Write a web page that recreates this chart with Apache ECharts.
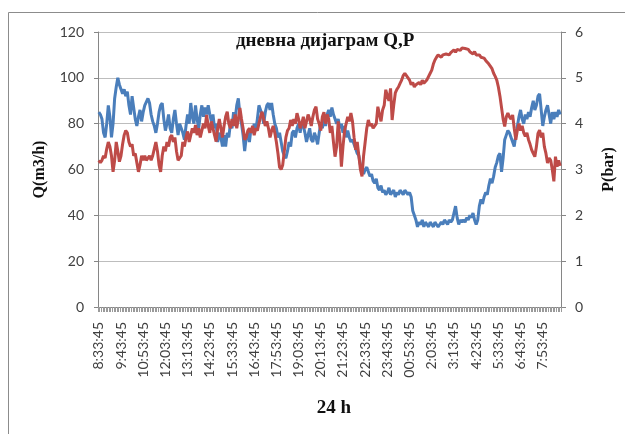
<!DOCTYPE html>
<html>
<head>
<meta charset="utf-8">
<script src="https://cdn.jsdelivr.net/npm/echarts@6/dist/echarts.min.js"></script>
<style>
  html, body { margin: 0; padding: 0; background: #ffffff; }
  #chart { width: 625px; height: 434px; }
</style>
</head>
<body>
<div id="chart"></div>
<script>
// Daily flow (Q, m3/h) and pressure (P, bar) readings, one every 5 minutes from 8:33:45
const startHour = 8, startMinute = 33, stepMinutes = 5;

const flowQ = [
  85, 84, 82, 76, 74, 80, 88, 83, 74, 80,
  91, 96, 100, 97, 95, 93, 95, 92, 94, 88,
  84, 92, 87, 82, 79, 83, 86, 81, 85, 88,
  88, 91, 89, 84, 81, 79, 76, 80, 85, 88,
  89, 82, 77, 80, 84, 78, 76, 82, 86, 80,
  75, 80, 78, 76, 73, 79, 84, 80, 89, 83,
  80, 88, 82, 78, 84, 88, 83, 87, 84, 88,
  84, 81, 84, 78, 80, 72, 76, 74, 70, 75,
  70, 76, 74, 80, 78, 85, 82, 88, 91, 84,
  80, 75, 68, 74, 76, 72, 78, 76, 80, 77,
  82, 88, 86, 84, 80, 85, 88, 89, 86, 89,
  84, 80, 78, 74, 76, 72, 68, 66, 65, 68,
  72, 70, 76, 77, 74, 78, 80, 76, 81, 79,
  76, 72, 75, 78, 73, 72, 76, 74, 71, 76,
  80, 78, 82, 79, 84, 86, 83, 87, 84, 82,
  80, 82, 78, 80, 76, 79, 74, 77, 74, 72,
  73, 71, 69, 67, 66, 62, 60, 58, 60, 61,
  59, 57, 58, 55, 54, 56, 52, 51, 53, 50,
  51, 49, 50, 52, 49, 50, 51, 48, 50, 49,
  51, 50, 49, 51, 50, 49, 50, 48, 42, 40,
  38, 35, 37, 36, 38, 35, 37, 36, 35, 37,
  36, 35, 37, 36, 35, 36, 37, 36, 38, 37,
  36, 38, 37, 38, 41, 44, 39, 36, 38, 37,
  38, 37, 39, 38, 40, 39, 41, 38, 36, 38,
  44, 47, 45, 48, 50, 49, 53, 56, 54, 57,
  61, 63, 66, 67, 59, 65, 73, 75, 77, 76,
  74, 72, 70, 75, 79, 83, 86, 82, 80, 84,
  82, 85, 83, 87, 90, 86, 88, 92, 93, 86,
  79, 83, 86, 88, 84, 80, 85, 82, 85, 83,
  86, 84
];

const pressureP = [
  3.2, 3.15, 3.2, 3.3, 3.25, 3.45, 3.6, 3.5, 3.3, 2.95,
  3.2, 3.6, 3.4, 3.17, 3.3, 3.55, 3.75, 3.85, 3.8, 3.6,
  3.5, 3.55, 3.3, 3.35, 3.15, 2.95, 3.1, 3.3, 3.2, 3.3,
  3.2, 3.25, 3.3, 3.2, 3.3, 3.45, 3.6, 3.4, 3.1, 2.95,
  3.3, 3.5, 3.4, 3.6, 3.5, 3.7, 3.75, 3.6, 3.7, 3.4,
  3.2, 3.17, 3.3, 3.6, 3.5, 3.7, 3.83, 3.6, 3.75, 3.9,
  3.8, 3.97, 3.75, 3.9, 3.7, 3.85, 4.0, 3.9, 4.19, 3.95,
  3.8, 4.05, 3.9, 3.75, 3.61, 3.9, 4.1, 3.9, 3.7, 3.95,
  4.15, 4.26, 4.0, 3.9, 4.1, 3.95, 4.2, 3.9, 4.1, 4.34,
  4.1, 3.9, 3.65, 3.7, 3.85, 3.9, 3.8, 3.95, 3.75, 3.9,
  3.85, 4.0, 4.15, 4.26, 4.1, 3.95, 4.05, 3.9, 3.7, 3.85,
  3.95, 3.8, 3.6, 3.35, 3.05, 3.0, 3.1, 3.4, 3.7, 3.85,
  3.9, 4.08, 3.95, 4.1, 4.0, 4.23, 4.1, 3.9, 4.0, 4.15,
  3.9, 4.05, 4.2, 4.1, 3.95, 4.15, 4.3, 4.37, 4.1, 4.0,
  3.85, 4.15, 4.25, 4.0, 4.2, 4.1, 3.8, 3.95, 3.6, 3.28,
  3.5, 4.05, 3.7, 3.06, 3.5, 3.85, 4.0, 4.15, 4.05, 4.23,
  4.05, 3.7, 3.43, 3.6, 3.3, 3.0, 2.85, 3.3, 3.6, 3.9,
  4.08, 3.95, 4.0, 3.9, 3.86, 4.0, 4.37, 4.2, 4.05, 4.3,
  4.4, 4.74, 4.6, 4.5, 4.77, 4.08, 4.4, 4.67, 4.75, 4.8,
  4.88, 4.95, 5.05, 5.1, 5.14, 5.0, 4.95, 4.85, 4.9, 4.8,
  4.85, 4.81, 4.9, 4.85, 4.95, 4.88, 4.92, 4.96, 5.0, 5.1,
  5.17, 5.3, 5.39, 5.45, 5.5, 5.47, 5.45, 5.5, 5.48, 5.52,
  5.54, 5.5, 5.55, 5.58, 5.61, 5.56, 5.62, 5.65, 5.6, 5.65,
  5.68, 5.64, 5.6, 5.62, 5.57, 5.55, 5.52, 5.57, 5.5, 5.48,
  5.5, 5.45, 5.47, 5.43, 5.38, 5.36, 5.3, 5.28, 5.2, 5.1,
  5.03, 4.95, 4.8, 4.6, 4.35, 4.1, 3.94, 4.15, 4.23, 4.15,
  4.1, 4.19, 3.9, 3.65, 3.86, 4.0, 3.85, 3.95, 3.8, 3.72,
  3.8, 3.65, 3.55, 3.43, 3.35, 3.28, 3.5, 3.79, 3.86, 3.7,
  3.8, 3.5, 3.35, 3.14, 3.25, 3.2, 3.0, 2.74, 3.28, 3.06,
  3.2, 3.08
];

// Tick values of the two value axes
const qTicks = [0, 20, 40, 60, 80, 100, 120];
const pTicks = [0, 1, 2, 3, 4, 5, 6];

// Time-of-day categories (h:mm:45, with the midnight hour written as "00")
const timeLabels = flowQ.map(function (_, i) {
  const total = startHour * 60 + startMinute + i * stepMinutes;
  const h = Math.floor(total / 60) % 24;
  const m = total % 60;
  return (h === 0 ? '00' : String(h)) + ':' + String(m).padStart(2, '0') + ':45';
});

const serif = '"Liberation Serif", "DejaVu Serif", serif';
const sans = 'Lato, "Liberation Sans", sans-serif';
const axisGrey = '#868686';
const textGrey = '#404040';

const chart = echarts.init(document.getElementById('chart'), null, { renderer: 'canvas' });

chart.setOption({
  animation: false,
  backgroundColor: '#ffffff',
  title: {
    text: 'дневна дијаграм Q,P',
    left: 231,
    top: 27,
    textStyle: { fontFamily: serif, fontWeight: 'bold', fontSize: 19, color: '#111111' }
  },
  graphic: [{
    type: 'rect',
    silent: true,
    shape: { x: 8.5, y: 12.5, width: 700, height: 500 },
    style: { fill: 'none', stroke: '#8c8c8c', lineWidth: 1 }
  }],
  grid: { left: 98, right: 62, top: 32, bottom: 127, containLabel: false },
  xAxis: {
    type: 'category',
    data: timeLabels,
    boundaryGap: true,
    name: '24 h',
    nameLocation: 'middle',
    nameGap: 92,
    nameTextStyle: { fontFamily: serif, fontWeight: 'bold', fontSize: 19, color: '#111111', padding: [0, 0, 0, 9] },
    axisLine: { lineStyle: { color: axisGrey, width: 1 } },
    axisTick: { show: true, interval: 0, length: 5, lineStyle: { color: '#9a9a9a' } },
    axisLabel: {
      interval: 13,
      rotate: 90,
      margin: 15,
      fontFamily: sans,
      fontSize: 14,
      color: textGrey
    },
    splitLine: { show: false }
  },
  yAxis: [{
    type: 'value',
    position: 'left',
    min: qTicks[0],
    max: qTicks[qTicks.length - 1],
    interval: qTicks[1] - qTicks[0],
    name: 'Q(m3/h)',
    nameLocation: 'middle',
    nameRotate: 90,
    nameGap: 50,
    nameTextStyle: { fontFamily: serif, fontWeight: 'bold', fontSize: 16, color: '#111111' },
    axisLine: { show: true, lineStyle: { color: axisGrey } },
    axisTick: { show: true, length: 4, lineStyle: { color: axisGrey } },
    axisLabel: { margin: 14, fontFamily: sans, fontSize: 14, color: textGrey },
    splitLine: { show: true, lineStyle: { color: '#bdbdbd', width: 1 } }
  }, {
    type: 'value',
    position: 'right',
    min: pTicks[0],
    max: pTicks[pTicks.length - 1],
    interval: pTicks[1] - pTicks[0],
    name: 'P(bar)',
    nameLocation: 'middle',
    nameRotate: 90,
    nameGap: 40,
    nameTextStyle: { fontFamily: serif, fontWeight: 'bold', fontSize: 16, color: '#111111' },
    axisLine: { show: true, lineStyle: { color: axisGrey } },
    axisTick: { show: true, length: 5, lineStyle: { color: axisGrey } },
    axisLabel: { margin: 14, fontFamily: sans, fontSize: 14, color: textGrey },
    splitLine: { show: false }
  }],
  series: [{
    name: 'Q',
    type: 'line',
    yAxisIndex: 0,
    data: flowQ,
    showSymbol: false,
    symbol: 'none',
    lineStyle: { color: '#4a7ebb', width: 3 },
    itemStyle: { color: '#4a7ebb' }
  }, {
    name: 'P',
    type: 'line',
    yAxisIndex: 1,
    data: pressureP,
    showSymbol: false,
    symbol: 'none',
    lineStyle: { color: '#be4b48', width: 3 },
    itemStyle: { color: '#be4b48' }
  }]
});
</script>
</body>
</html>
